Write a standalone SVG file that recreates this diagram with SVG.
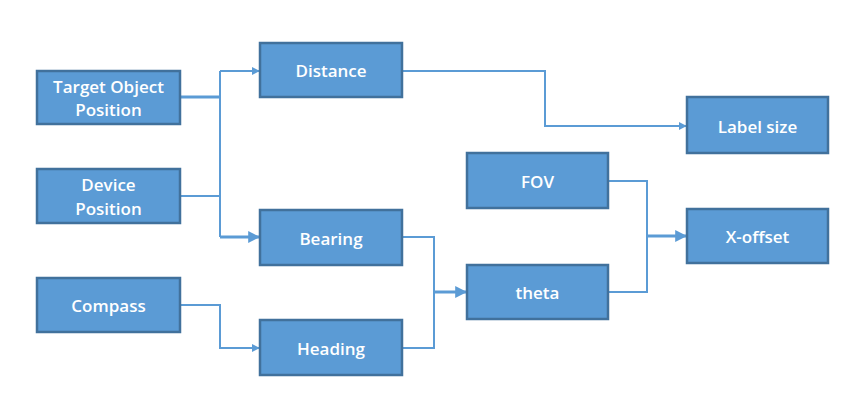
<svg xmlns="http://www.w3.org/2000/svg" width="864" height="416" viewBox="0 0 864 416">
<style>
.box{fill:#5b9bd5;stroke:#41719c;stroke-width:2.5}
.t{font-family:"Open Sans","Liberation Sans",Arial,sans-serif;font-weight:600;font-size:17px;fill:#fff;text-anchor:middle;dominant-baseline:central}
.c{fill:none;stroke:#5b9bd5;stroke-width:2}
.thick{stroke-width:3}
</style>
<defs>
<marker id="ah" viewBox="0 0 10 10" refX="9" refY="5" markerWidth="4" markerHeight="4" orient="auto" markerUnits="strokeWidth">
<path d="M0,0 L10,5 L0,10 z" fill="#5b9bd5"/>
</marker>
</defs>
<rect width="864" height="416" fill="#fff"/>
<g id="connectors">
<path class="c thick" d="M180,97 H220"/>
<path class="c" d="M180,196 H220"/>
<path class="c" d="M220,71 V237"/>
<path class="c" d="M220,71 H259" marker-end="url(#ah)"/>
<path class="c thick" d="M220,237 H259" marker-end="url(#ah)"/>
<path class="c" d="M180,305 H220 V348 H259" marker-end="url(#ah)"/>
<path class="c" d="M402,237 H434 V348 H402"/>
<path class="c thick" d="M434,292 H466" marker-end="url(#ah)"/>
<path class="c" d="M608,181 H647 V292 H608"/>
<path class="c thick" d="M647,236 H686" marker-end="url(#ah)"/>
<path class="c" d="M402,71 H545 V126 H686" marker-end="url(#ah)"/>
</g>
<g id="target"><rect class="box" x="37" y="71" width="143" height="53"/><text class="t" x="108.5" y="86">Target Object</text><text class="t" x="108.5" y="109">Position</text></g>
<g id="device"><rect class="box" x="37" y="169" width="143" height="54"/><text class="t" x="108.5" y="184">Device</text><text class="t" x="108.5" y="208">Position</text></g>
<g id="compass"><rect class="box" x="37" y="278" width="143" height="54"/><text class="t" x="108.5" y="305">Compass</text></g>
<g id="distance"><rect class="box" x="260" y="43" width="142" height="54"/><text class="t" x="331" y="70">Distance</text></g>
<g id="bearing"><rect class="box" x="260" y="210" width="142" height="55"/><text class="t" x="331" y="238">Bearing</text></g>
<g id="heading"><rect class="box" x="260" y="320" width="142" height="55"/><text class="t" x="331" y="348">Heading</text></g>
<g id="fov"><rect class="box" x="467" y="153" width="141" height="55"/><text class="t" x="537.5" y="181">FOV</text></g>
<g id="theta"><rect class="box" x="467" y="265" width="141" height="54"/><text class="t" x="537.5" y="292">theta</text></g>
<g id="labelsize"><rect class="box" x="687" y="97" width="141" height="56"/><text class="t" x="757.5" y="126">Label size</text></g>
<g id="xoffset"><rect class="box" x="687" y="209" width="141" height="54"/><text class="t" x="757.5" y="236">X-offset</text></g>
</svg>
